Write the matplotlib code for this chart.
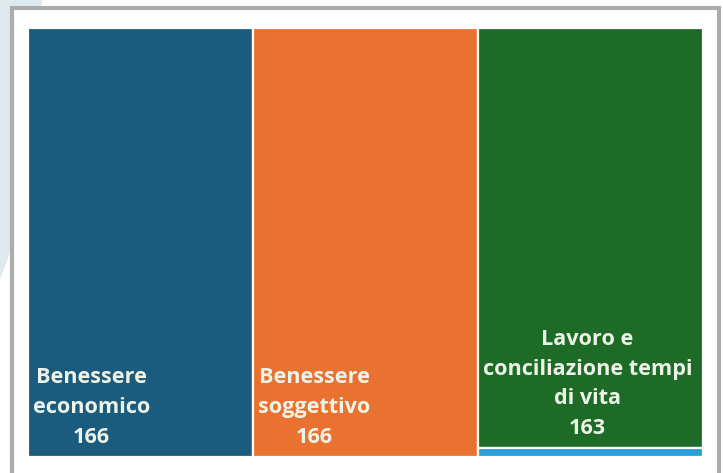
"""Treemap crop: Benessere economico / soggettivo / Lavoro e conciliazione."""

import matplotlib
matplotlib.use("Agg")
import matplotlib.pyplot as plt
from matplotlib.patches import Rectangle, Polygon

# ── data ────────────────────────────────────────────────────────────────
labels = ["Benessere\neconomico", "Benessere\nsoggettivo",
          "Lavoro e\nconciliazione tempi\ndi vita", ""]
values = [166, 166, 163, 3.4]
column = [0, 1, 2, 2]          # treemap column of each cell
colors = ["#1a5b7e", "#ea7231", "#1d6b27", "#2b9fd9"]

W, H = 723, 473
fig = plt.figure(figsize=(W / 100, H / 100), dpi=100)

# ── background decoration (pixel coords) ────────────────────────────────
bg = fig.add_axes([0, 0, 1, 1])
bg.set_xlim(0, W)
bg.set_ylim(H, 0)
bg.axis("off")
bg.add_patch(Polygon([(0, 0), (42, 0), (11, 250), (0, 280)],
                     closed=True, facecolor="#dfeaf0", edgecolor="none"))
bg.add_patch(Rectangle((12, 8), 707, 480, facecolor="white",
                       edgecolor="#a9adad", lw=3))

# ── treemap ─────────────────────────────────────────────────────────────
x0, x1, y0, y1 = 28, 703, 28, 457
ax = fig.add_axes([x0 / W, 1 - y1 / H, (x1 - x0) / W, (y1 - y0) / H])
ax.axis("off")

ncol = max(column) + 1
col_tot = [sum(v for v, c in zip(values, column) if c == k) for k in range(ncol)]
total = sum(col_tot)
ax.set_xlim(0, total)
ax.set_ylim(1, 0)

px = (x1 - x0) / total          # pixels per x unit
py = 1 / (y1 - y0)              # y units per pixel

left = 0
for k in range(ncol):
    top = 0
    for lab, v, c, col in zip(labels, values, column, colors):
        if c != k:
            continue
        h = v / col_tot[k]
        ax.add_patch(Rectangle((left, top), col_tot[k], h, facecolor=col,
                               edgecolor="white", lw=1.6))
        if lab:
            txt = f"{lab}\n{v:g}"
            ax.text(left + 5 / px, top + h - 9 * py, txt,
                    ha="left", va="bottom", multialignment="center",
                    fontsize=15.6, fontweight="bold", color="#eef3e8",
                    family=["Open Sans", "DejaVu Sans"], linespacing=1.55)
        top += h
    left += col_tot[k]

fig.savefig("out.png", dpi=100, facecolor="white")
